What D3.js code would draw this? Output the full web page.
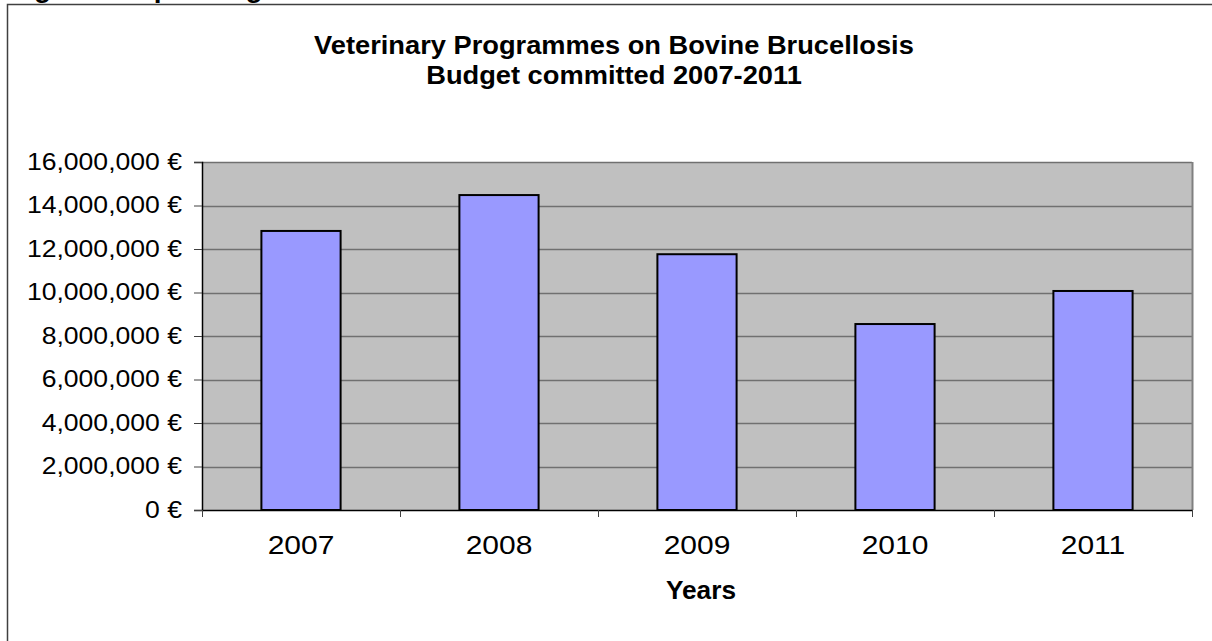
<!DOCTYPE html>
<html><head><meta charset="utf-8">
<script src="https://cdn.jsdelivr.net/npm/d3@7"></script>
<style>body{margin:0;background:#fff;}svg{display:block;font-family:Arial,"Liberation Sans",sans-serif;}</style>
</head><body>
<script>
const categories = ["2007","2008","2009","2010","2011"];
const budget = [12830000, 14480000, 11760000, 8550000, 10070000];
const yTicks = [0,2000000,4000000,6000000,8000000,10000000,12000000,14000000,16000000];
const titleLines = ["Veterinary Programmes on Bovine Brucellosis","Budget committed 2007-2011"];
const xTitle = "Years";
const captionText = "Figure 4: Spending on bovine brucellosis";

const W=1212,H=641;
const svg=d3.select("body").append("svg").attr("width",W).attr("height",H);
const m={l:202,t:162,r:1192,b:510};
const FONT="Arial,'Liberation Sans',sans-serif";

function stretch(sel,k){
  sel.each(function(){
    const w=this.getComputedTextLength();
    d3.select(this).attr("textLength",w*k).attr("lengthAdjust","spacingAndGlyphs");
  });
}

// cut-off caption
svg.append("text").attr("x",9).attr("y",-3).attr("font-size",28).attr("font-weight","bold").text(captionText);
// outer frame
svg.append("path").attr("d",`M7.5,${H} V4.5 H${W}`).attr("fill","none").attr("stroke","#404040").attr("stroke-width",1.5);

const x=d3.scaleBand().domain(categories).range([m.l,m.r]).paddingInner(0.6).paddingOuter(0.3);
const xb=d3.scaleBand().domain(categories).range([m.l,m.r]);
const y=d3.scaleLinear().domain([0,16000000]).range([m.b,m.t]);

svg.append("rect").attr("x",m.l).attr("y",m.t).attr("width",m.r-m.l).attr("height",m.b-m.t).attr("fill","#C0C0C0");
// gridlines
svg.append("g").selectAll("line").data(yTicks.slice(1)).join("line")
  .attr("x1",m.l).attr("x2",m.r).attr("y1",d=>Math.round(y(d))+0.5).attr("y2",d=>Math.round(y(d))+0.5)
  .attr("stroke","#707070").attr("stroke-width",1.5);
// right border shadow
svg.append("line").attr("x1",m.r+0.5).attr("x2",m.r+0.5).attr("y1",m.t).attr("y2",m.b).attr("stroke","#808080").attr("stroke-width",2);

// bars
svg.append("g").selectAll("rect").data(budget).join("rect")
  .attr("x",(d,i)=>x(categories[i])).attr("width",x.bandwidth())
  .attr("y",d=>y(d)).attr("height",d=>m.b-y(d))
  .attr("fill","#9999FF").attr("stroke","#000").attr("stroke-width",2);

// y axis
const ya=svg.append("g").attr("transform",`translate(${m.l},0)`)
  .call(d3.axisLeft(y).tickValues(yTicks).tickSize(8).tickPadding(12).tickFormat(d=>d3.format(",")(d)+" €"));
ya.select(".domain").attr("stroke","#000").attr("stroke-width",1.5);
ya.selectAll(".tick line").attr("stroke","#404040");
ya.selectAll("text").attr("font-size",23).attr("fill","#000").attr("font-family",FONT).call(stretch,1.155);

// x axis
const xa=svg.append("g").attr("transform",`translate(0,${m.b})`)
  .call(d3.axisBottom(xb).tickSize(0).tickPadding(26));
xa.select(".domain").attr("stroke","#000").attr("stroke-width",1.5);
xa.selectAll("text").attr("font-size",25).attr("fill","#000").attr("font-family",FONT).call(stretch,1.2);
// category boundary ticks
svg.append("g").selectAll("line").data(categories.concat(["end"])).join("line")
  .attr("x1",(d,i)=>Math.round(i<categories.length?xb(d):m.r)+0.5)
  .attr("x2",(d,i)=>Math.round(i<categories.length?xb(d):m.r)+0.5)
  .attr("y1",m.b).attr("y2",m.b+7).attr("stroke","#404040");

// titles
svg.append("g").selectAll("text").data(titleLines).join("text")
  .attr("x",614).attr("y",(d,i)=>54+i*30).attr("text-anchor","middle")
  .attr("font-size",25).attr("font-weight","bold").text(d=>d).call(stretch,1.09);
svg.append("text").attr("x",701).attr("y",599).attr("text-anchor","middle")
  .attr("font-size",25).attr("font-weight","bold").text(xTitle).call(stretch,1.05);
</script>
</body></html>
